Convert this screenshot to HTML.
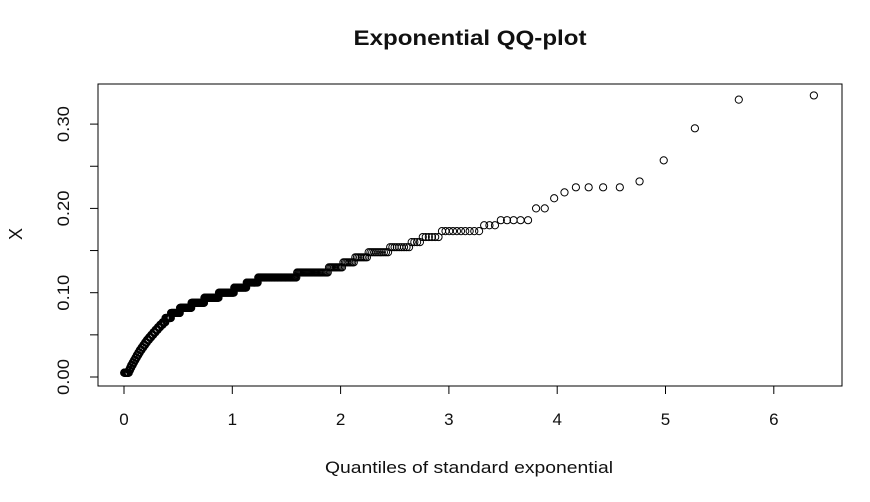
<!DOCTYPE html>
<html><head><meta charset="utf-8"><style>
body{margin:0;background:#fff;}
svg text{font-family:"Liberation Sans",Arial,sans-serif;fill:#111;}
</style></head><body>
<svg id="chart" width="870" height="497" xmlns="http://www.w3.org/2000/svg">
<rect width="870" height="497" fill="#fff"/>
<text x="470" y="45" text-anchor="middle" font-size="21" font-weight="bold" textLength="233" lengthAdjust="spacingAndGlyphs">Exponential QQ-plot</text>
<text x="469" y="473" text-anchor="middle" font-size="17" textLength="288" lengthAdjust="spacingAndGlyphs">Quantiles of standard exponential</text>
<text x="22" y="234" text-anchor="middle" font-size="18" transform="rotate(-90 22 234)">X</text>
<rect x="98" y="84" width="744" height="302" fill="none" stroke="#000" stroke-width="1"/>
<g id="axes"></g>
<g id="points"></g>
</svg>
<script>
const levels=[0.005,0.008,0.011,0.014,0.017,0.020,0.023,0.026,0.029,0.032,0.035,0.038,0.041,0.044,0.047,0.050,0.053,0.056,0.059,0.062,0.065,0.070,0.076,0.082,0.088,0.094,0.100,0.106,0.112,0.118,0.124,0.130,0.136,0.142,0.148,0.154,0.160,0.166,0.173,0.180,0.186,0.200,0.212,0.219,0.225,0.232,0.257,0.295,0.329,0.334];
const counts=[25,6,6,7,7,7,7,7,7,8,8,8,8,9,9,9,9,9,9,10,10,20,30,35,35,35,32,23,19,51,30,11,8,8,11,9,4,6,10,3,5,2,1,1,4,1,1,1,1,1];
const xTicks=[0,1,2,3,4,5,6];
const yTicks=[0,0.05,0.10,0.15,0.20,0.25,0.30];
const yLabels=["0.00","","0.10","","0.20","","0.30"];
const NS="http://www.w3.org/2000/svg";
function xs(q){return 124+108.3*q;}
function ys(v){return 377-843*v;}
const axes=document.getElementById('axes');
function mk(t,a,p){const e=document.createElementNS(NS,t);for(const k in a)e.setAttribute(k,a[k]);p.appendChild(e);return e;}
mk('line',{x1:xs(0),x2:xs(6),y1:386,y2:386,stroke:'#000'},axes);
xTicks.forEach(t=>{
  const l=mk('line',{x1:xs(t),x2:xs(t),y1:386,y2:394,stroke:'#000'},axes);
  
  
  const tx=mk('text',{x:xs(t),y:425,'text-anchor':'middle','font-size':17},axes);
  tx.textContent=String(t);
  
  
});
mk('line',{x1:98,x2:98,y1:ys(0),y2:ys(0.30),stroke:'#000'},axes);
yTicks.forEach((t,i)=>{
  const l=mk('line',{x1:90,x2:98,y1:ys(t),y2:ys(t),stroke:'#000'},axes);
  
  
  if(yLabels[i]){
    const y=ys(t),x=69;
    const tx=mk('text',{x:x,y:y,'text-anchor':'middle','font-size':17,textLength:36,lengthAdjust:'spacingAndGlyphs',transform:`rotate(-90 ${x} ${y})`},axes);
    tx.textContent=yLabels[i];
    
    
  }
});
const vals=[];
levels.forEach((v,i)=>{for(let k=0;k<counts[i];k++)vals.push(v);});
const n=vals.length;
const pg=document.getElementById('points');
vals.forEach((v,i)=>{
  const q=Math.log((n+1)/(n-i));
  const c=mk('circle',{cx:xs(q),cy:ys(v),r:3.6,fill:'none',stroke:'#000','stroke-width':1},pg);
  
  
});
</script>
</body></html>
